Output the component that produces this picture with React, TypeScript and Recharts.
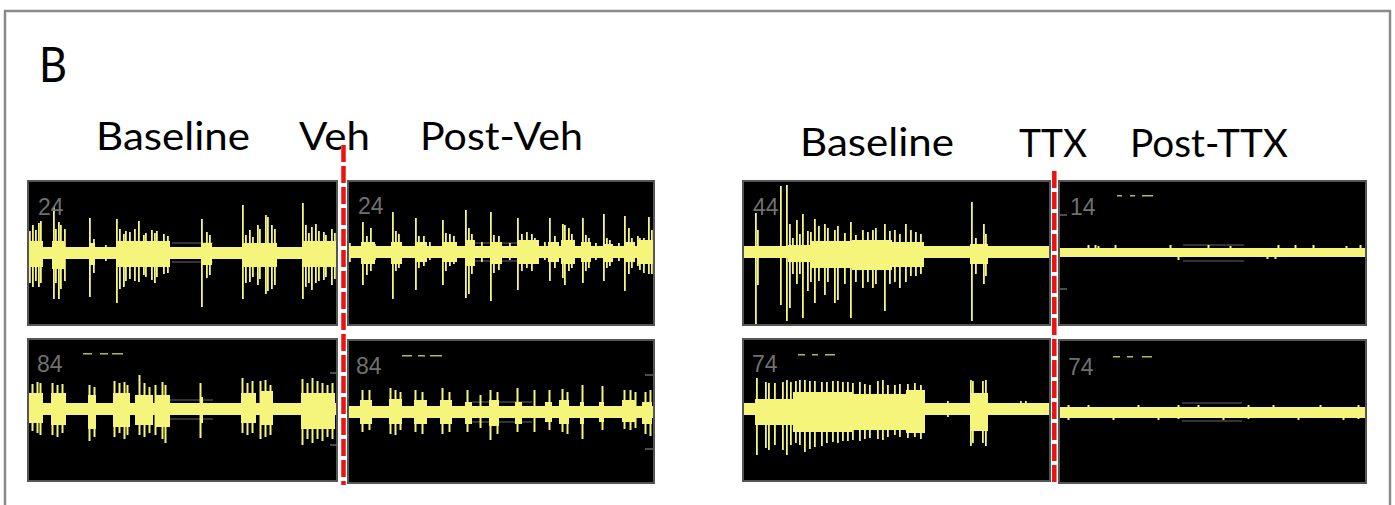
import React from "react";
import { ComposedChart, Bar, XAxis, YAxis, ReferenceArea } from "recharts";

type Spike = [number, number, number]; // [x, up, down]
type Burst = [number, number, number, number]; // [x1, x2, up, down]

// ---- Veh experiment, channel 24 ----
const vehBaseTopSpikes: Spike[] = [
  [1, 28, 40], [3, 22, 30], [6, 28, 34], [9, 23, 28], [12, 30, 34], [14, 32, 30],
  [27, 46, 46], [29, 24, 30], [32, 31, 46], [34, 28, 36], [38, 24, 28],
  [63, 35, 44], [67, 14, 20], [79, 8, 8],
  [90, 34, 50], [93, 24, 36], [97, 19, 34], [99, 22, 28], [103, 21, 26], [108, 24, 28],
  [112, 32, 29], [117, 18, 22], [119, 20, 24], [125, 23, 27], [128, 20, 30], [130, 22, 24],
  [137, 19, 21], [141, 17, 20],
  [175, 34, 54], [180, 21, 25], [183, 18, 22],
  [216, 48, 46], [219, 18, 30], [223, 23, 29], [226, 16, 24], [231, 28, 32], [233, 24, 26],
  [239, 38, 41], [241, 36, 38], [245, 28, 36], [248, 24, 32],
  [276, 50, 46], [279, 28, 34], [282, 20, 30], [285, 26, 37], [289, 29, 30], [292, 22, 28],
  [297, 21, 27], [299, 18, 24], [305, 24, 32], [308, 20, 26],
];
const vehBaseTopBursts: Burst[] = [
  [0, 16, 12, 14], [25, 38, 12, 16], [62, 68, 10, 12], [89, 143, 12, 14],
  [174, 185, 10, 12], [215, 250, 10, 14], [275, 310, 12, 14],
];
const vehPostTopSpikes: Spike[] = [
  [3, 9, 10], [16, 30, 33], [20, 16, 23], [24, 24, 19], [28, 8, 8],
  [46, 40, 47], [49, 21, 19], [52, 18, 16],
  [69, 34, 38], [72, 16, 16], [77, 16, 14], [83, 10, 8],
  [96, 32, 33], [99, 19, 19], [103, 18, 14], [107, 16, 12],
  [119, 42, 46], [122, 24, 42], [125, 18, 22], [135, 10, 10],
  [144, 40, 49], [147, 17, 21], [152, 16, 18], [163, 9, 8],
  [171, 34, 38], [175, 18, 19], [180, 20, 16], [185, 18, 19], [188, 14, 12], [198, 10, 8],
  [203, 34, 29], [208, 16, 16], [216, 28, 26], [218, 27, 33], [222, 24, 19], [225, 18, 16],
  [236, 34, 31], [239, 17, 19], [242, 14, 16], [249, 9, 8],
  [257, 38, 29], [260, 14, 16], [263, 12, 14], [272, 9, 9],
  [278, 36, 39], [282, 24, 22], [285, 14, 16], [291, 16, 14], [293, 14, 18], [297, 14, 21],
  [302, 35, 22], [305, 22, 22],
];
const vehPostTopBursts: Burst[] = [
  [14, 28, 10, 12], [44, 55, 10, 12], [68, 80, 10, 10], [95, 110, 10, 10], [118, 128, 12, 14],
  [143, 155, 10, 12], [170, 192, 12, 12], [201, 212, 10, 10], [214, 228, 12, 12],
  [234, 244, 10, 10], [256, 266, 8, 10], [277, 288, 10, 10], [290, 307, 12, 12],
];

// ---- Veh experiment, channel 84 ----
const vehBaseBotSpikes: Spike[] = [
  [1, 26, 26], [6, 25, 22], [11, 27, 24], [14, 26, 26],
  [26, 26, 26], [31, 24, 28], [36, 25, 24],
  [63, 24, 32], [68, 22, 28],
  [88, 28, 28], [93, 26, 24], [98, 27, 30], [101, 24, 26],
  [113, 34, 26], [118, 26, 28], [123, 22, 24], [129, 24, 26], [136, 27, 30], [139, 24, 34],
  [174, 26, 29],
  [216, 31, 24], [221, 26, 26], [226, 28, 24], [234, 28, 30], [239, 29, 28], [244, 24, 26],
  [276, 30, 36], [281, 26, 30], [286, 31, 34], [291, 28, 30], [296, 26, 32], [301, 24, 28], [306, 26, 30],
];
const vehBaseBotBursts: Burst[] = [
  [0, 16, 16, 14], [24, 39, 16, 16], [61, 69, 14, 20], [86, 103, 16, 18], [108, 126, 14, 16],
  [128, 143, 14, 18], [173, 176, 12, 14], [214, 229, 16, 14], [233, 246, 18, 16], [274, 308, 16, 20],
];
const vehPostBotSpikes: Spike[] = [
  [15, 22, 20], [22, 22, 18], [43, 24, 22], [48, 22, 23], [53, 20, 18],
  [68, 22, 20], [75, 20, 22], [95, 24, 22], [102, 20, 20], [120, 22, 20], [133, 17, 16],
  [143, 22, 28], [150, 20, 22], [170, 24, 20], [187, 22, 20], [202, 22, 18],
  [215, 23, 20], [220, 20, 22], [235, 27, 27], [255, 26, 18],
  [277, 22, 17], [283, 22, 18], [288, 20, 16], [298, 20, 22], [303, 22, 24],
];
const vehPostBotBursts: Burst[] = [
  [13, 25, 12, 12], [42, 55, 13, 12], [67, 80, 12, 12], [93, 105, 12, 12], [118, 125, 10, 12],
  [142, 152, 12, 14], [168, 175, 10, 12], [198, 205, 10, 10], [212, 222, 12, 12],
  [233, 237, 10, 12], [252, 257, 10, 10], [275, 288, 12, 10], [295, 305, 10, 12],
];

// ---- TTX experiment, channel 44 / 14 ----
const ttxBaseTopSpikes: Spike[] = [
  [14, 39, 73], [16, 22, 33], [39, 66, 53], [45, 67, 69], [48, 28, 56], [51, 14, 22],
  [55, 32, 32], [58, 18, 22], [61, 38, 66], [66, 21, 39], [69, 20, 30], [73, 33, 51],
  [77, 26, 29], [83, 28, 43], [86, 24, 30], [93, 22, 51], [96, 26, 48], [103, 19, 32],
  [109, 30, 66], [114, 17, 30], [121, 22, 36], [126, 20, 30], [131, 22, 36], [134, 24, 32],
  [143, 28, 59], [148, 21, 32], [153, 22, 30], [158, 18, 36], [164, 28, 30], [169, 22, 24],
  [174, 20, 24], [179, 18, 22],
  [230, 50, 69], [234, 14, 22], [242, 28, 32], [244, 18, 24],
];
const ttxBaseTopBursts: Burst[] = [
  [46, 68, 7, 10], [68, 110, 11, 16], [110, 150, 12, 18], [150, 182, 10, 15], [228, 246, 8, 12],
];
const ttxPostTopSpikes: Spike[] = [
  [30, 7, 0], [37, 7, 0], [40, 6, 0], [57, 7, 0], [112, 7, 0], [120, 0, 8], [150, 7, 0],
  [172, 6, 0], [209, 0, 7], [217, 0, 7], [220, 7, 0], [237, 7, 0], [255, 7, 0], [288, 6, 0], [302, 7, 0],
];
const ttxPostTopBursts: Burst[] = [];

// ---- TTX experiment, channel 74 ----
const ttxBaseBotSpikes: Spike[] = [
  [15, 31, 46], [24, 27, 39], [27, 26, 41], [33, 26, 36], [41, 27, 41], [45, 29, 46],
  [49, 27, 36], [54, 28, 34], [58, 29, 36], [63, 29, 43], [68, 28, 40], [73, 28, 38],
  [80, 27, 37], [85, 27, 34], [91, 28, 33], [96, 28, 34], [101, 27, 32], [106, 27, 32],
  [111, 26, 31], [118, 27, 32], [123, 25, 30], [128, 24, 29], [136, 28, 30], [141, 29, 31],
  [146, 24, 28], [153, 24, 26], [158, 25, 28], [166, 25, 29], [173, 26, 28], [179, 24, 30],
  [206, 8, 8], [229, 29, 37], [231, 28, 34], [241, 28, 34], [244, 29, 37], [279, 8, 6], [284, 8, 6],
];
const ttxBaseBotBursts: Burst[] = [
  [13, 51, 10, 16], [51, 110, 17, 23], [110, 164, 15, 21], [164, 183, 19, 24], [228, 246, 16, 22],
];
const ttxPostBotSpikes: Spike[] = [
  [10, 7, 8], [30, 7, 0], [55, 0, 8], [80, 7, 0], [100, 0, 8], [120, 7, 7], [140, 7, 0],
  [165, 0, 8], [190, 7, 7], [215, 7, 0], [240, 0, 8], [262, 7, 0], [285, 0, 8], [300, 7, 7],
];
const ttxPostBotBursts: Burst[] = [];

// channel labels and noise band half-widths (panel order)
const channelLabels = ["24", "24", "84", "84", "44", "14", "74", "74"];
const bandUp = [6, 6, 6, 6, 6, 4, 6, 5];
const bandDown = [6, 6, 6, 6, 6, 5, 6, 6];

const YELLOW = "#f5f57c";
const GRID = "#444";

interface PanelGeom {
  left: number; top: number; width: number; height: number; center: number;
  spikes: Spike[]; bursts: Burst[]; box: [number, number, number, number];
  labelX: number; labelY: number;
}

const panels: PanelGeom[] = [
  { left: 27, top: 180, width: 311, height: 146, center: 73, spikes: vehBaseTopSpikes, bursts: vehBaseTopBursts, box: [145, 186, 10, 9], labelX: 38, labelY: 215 },
  { left: 347, top: 180, width: 308, height: 146, center: 72, spikes: vehPostTopSpikes, bursts: vehPostTopBursts, box: [126, 170, 9, 9], labelX: 358, labelY: 214 },
  { left: 27, top: 338, width: 311, height: 144, center: 71, spikes: vehBaseBotSpikes, bursts: vehBaseBotBursts, box: [133, 186, 9, 10], labelX: 37, labelY: 372 },
  { left: 347, top: 339, width: 308, height: 145, center: 73, spikes: vehPostBotSpikes, bursts: vehPostBotBursts, box: [125, 185, 10, 10], labelX: 356, labelY: 374 },
  { left: 742, top: 180, width: 309, height: 146, center: 72, spikes: ttxBaseTopSpikes, bursts: ttxBaseTopBursts, box: [133, 170, 9, 9], labelX: 753, labelY: 215 },
  { left: 1058, top: 180, width: 309, height: 146, center: 72, spikes: ttxPostTopSpikes, bursts: ttxPostTopBursts, box: [125, 186, 7, 9], labelX: 1070, labelY: 215 },
  { left: 742, top: 338, width: 309, height: 144, center: 71, spikes: ttxBaseBotSpikes, bursts: ttxBaseBotBursts, box: [133, 170, 9, 9], labelX: 752, labelY: 372 },
  { left: 1058, top: 339, width: 309, height: 145, center: 73, spikes: ttxPostBotSpikes, bursts: ttxPostBotBursts, box: [124, 184, 9, 9], labelX: 1068, labelY: 375 },
];

function TracePanel({ p, idx }: { p: PanelGeom; idx: number }) {
  const data = p.spikes.map(([x, u, d]) => ({ x, r: [-d, u] }));
  const yMax = p.center;
  const yMin = -(p.height - p.center);
  const [bx1, bx2, bu, bd] = p.box;
  return (
    <div style={{ position: "absolute", left: p.left, top: p.top, width: p.width, height: p.height, background: "#000" }}>
      <ComposedChart width={p.width} height={p.height} data={data} margin={{ top: 0, right: 0, bottom: 0, left: 0 }}>
        <XAxis type="number" dataKey="x" domain={[0, p.width]} hide allowDataOverflow />
        <YAxis type="number" domain={[yMin, yMax]} hide allowDataOverflow />
        <ReferenceArea x1={bx1} x2={bx2} y1={bu - 0.8} y2={bu + 0.8} fill={GRID} fillOpacity={1} stroke="none" />
        <ReferenceArea x1={bx1} x2={bx2} y1={-bd - 0.8} y2={-bd + 0.8} fill={GRID} fillOpacity={1} stroke="none" />
        <ReferenceArea x1={0} x2={p.width} y1={-bandDown[idx]} y2={bandUp[idx]} fill={YELLOW} fillOpacity={1} stroke="none" />
        {p.bursts.map(([x1, x2, u, d], i) => (
          <ReferenceArea key={i} x1={x1} x2={x2} y1={-d} y2={u} fill={YELLOW} fillOpacity={1} stroke="none" />
        ))}
        <Bar dataKey="r" barSize={2} fill={YELLOW} isAnimationActive={false} />
      </ComposedChart>
    </div>
  );
}

const FONT = "Lato, 'Open Sans', sans-serif";

export default function App() {
  return (
    <div style={{ position: "absolute", left: 0, top: 0, width: 1395, height: 505, background: "#fff", overflow: "hidden" }}>
      {panels.map((p, i) => (
        <TracePanel key={i} p={p} idx={i} />
      ))}
      <svg width={1395} height={505} style={{ position: "absolute", left: 0, top: 0, pointerEvents: "none" }}>
        {/* outer frame */}
        <line x1={4} y1={11} x2={1391} y2={11} stroke="#8a8a8a" strokeWidth={2.5} />
        <line x1={5} y1={10} x2={5} y2={505} stroke="#8a8a8a" strokeWidth={2.5} />
        <line x1={1390} y1={10} x2={1390} y2={505} stroke="#8a8a8a" strokeWidth={2.5} />

        <text x={39} y={82} fontFamily={FONT} fontSize={49} fill="#000" textLength={28} lengthAdjust="spacingAndGlyphs">B</text>

        <text x={96} y={150} fontFamily={FONT} fontSize={39} fill="#000" textLength={154} lengthAdjust="spacingAndGlyphs">Baseline</text>
        <text x={299} y={150} fontFamily={FONT} fontSize={39} fill="#000" textLength={71} lengthAdjust="spacingAndGlyphs">Veh</text>
        <text x={420} y={150} fontFamily={FONT} fontSize={39} fill="#000" textLength={163} lengthAdjust="spacingAndGlyphs">Post-Veh</text>
        <text x={800} y={156} fontFamily={FONT} fontSize={39} fill="#000" textLength={154} lengthAdjust="spacingAndGlyphs">Baseline</text>
        <text x={1019} y={157} fontFamily={FONT} fontSize={39} fill="#000" textLength={68} lengthAdjust="spacingAndGlyphs">TTX</text>
        <text x={1130} y={157} fontFamily={FONT} fontSize={39} fill="#000" textLength={158} lengthAdjust="spacingAndGlyphs">Post-TTX</text>

        {/* panel borders and channel labels */}
        {panels.map((p, i) => (
          <g key={i}>
            <rect x={p.left + 1} y={p.top + 1} width={p.width - 2} height={p.height - 2} fill="none" stroke="#555" strokeWidth={2} />
            <text x={p.labelX} y={p.labelY} fontFamily="'Liberation Sans', Arial, sans-serif" fontSize={23} fill="#707070">{channelLabels[i]}</text>
          </g>
        ))}

        {/* small scale ticks */}
        <line x1={330} y1={373} x2={337} y2={373} stroke="#666" strokeWidth={1.5} />
        <line x1={330} y1={445} x2={337} y2={445} stroke="#666" strokeWidth={1.5} />
        <line x1={645} y1={375} x2={653} y2={375} stroke="#666" strokeWidth={1.5} />
        <line x1={645} y1={449} x2={653} y2={449} stroke="#666" strokeWidth={1.5} />
        <line x1={1060} y1={215} x2={1067} y2={215} stroke="#666" strokeWidth={1.5} />
        <line x1={1060} y1={289} x2={1067} y2={289} stroke="#666" strokeWidth={1.5} />

        {/* clipped yellow header fragments */}
        <g fill="#b8b850">
          <rect x={83} y={353} width={9} height={1.5} /><rect x={100} y={353} width={8} height={1.5} /><rect x={112} y={353} width={11} height={1.5} />
          <rect x={402} y={355} width={10} height={1.5} /><rect x={418} y={355} width={7} height={1.5} /><rect x={430} y={355} width={12} height={1.5} />
          <rect x={798} y={354} width={7} height={1.5} /><rect x={812} y={354} width={6} height={1.5} /><rect x={825} y={354} width={10} height={1.5} />
          <rect x={1113} y={356} width={7} height={1.5} /><rect x={1127} y={356} width={6} height={1.5} /><rect x={1142} y={356} width={10} height={1.5} />
          <rect x={1117} y={195} width={5} height={1.5} /><rect x={1130} y={195} width={5} height={1.5} /><rect x={1142} y={195} width={11} height={1.5} />
        </g>

        {/* treatment onset markers */}
        <line x1={343.5} y1={145} x2={343.5} y2={485} stroke="#fff" strokeWidth={5} />
        <line x1={343.5} y1={145} x2={343.5} y2={485} stroke="#ee1111" strokeWidth={4.5} strokeDasharray="17 4" />
        <line x1={1054.3} y1={171} x2={1054.3} y2={485} stroke="#fff" strokeWidth={5} />
        <line x1={1054.3} y1={171} x2={1054.3} y2={485} stroke="#ee1111" strokeWidth={4.5} strokeDasharray="17 4" />
      </svg>
    </div>
  );
}
